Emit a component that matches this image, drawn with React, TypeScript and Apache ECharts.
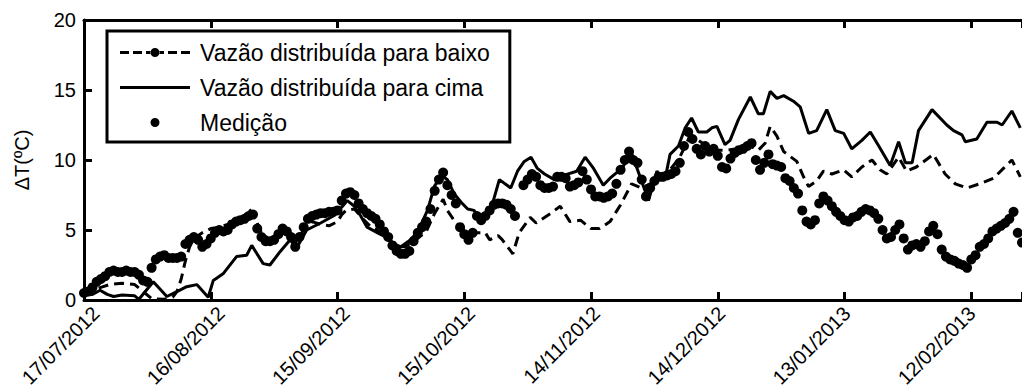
import React, { useEffect, useRef } from "react";
import * as echarts from "echarts";

// x axis: days since 17/07/2012, one tick label every 30 days
const tickLabels = [
  "17/07/2012", "16/08/2012", "15/09/2012", "15/10/2012",
  "14/11/2012", "14/12/2012", "13/01/2013", "12/02/2013",
];

const seriesNames = [
  "Vazão distribuída para baixo",
  "Vazão distribuída para cima",
  "Medição",
];

// Vazão distribuída para baixo: [day, ΔT]
const downFlow: [number, number][] = [
  [0, 0.4], [2, 0.7], [4, 0.9], [6, 1.1], [9, 1.2], [12, 1.1], [14, 0.6], [16, 0.1],
  [19, 0.05], [21, 0.2], [22, 0.6], [23, 1.5], [24, 2.8], [25, 3.8], [26, 4.4], [28, 4.8],
  [30, 5.1], [32, 5.2], [34, 5.4], [36, 5.6], [38, 6.0], [39, 6.5], [40, 6.2], [41, 5.5],
  [42, 4.8], [44, 4.3], [46, 4.6], [48, 4.9], [50, 4.1], [52, 5.0], [54, 5.6], [56, 5.4],
  [58, 5.3], [60, 5.6], [61, 6.1], [62, 6.4], [64, 6.5], [66, 5.8], [68, 5.2], [70, 4.9],
  [72, 4.4], [74, 3.8], [76, 3.8], [79, 4.4], [81, 4.9], [83, 6.2], [85, 7.2], [86, 6.4],
  [88, 5.5], [90, 5.0], [93, 4.8], [95, 4.8], [96, 4.3], [98, 4.6], [99, 4.3], [101.5, 3.3],
  [103, 4.8], [105.6, 5.9], [107, 5.5], [110.5, 6.2], [112.7, 6.7], [115, 5.6], [117.5, 5.7],
  [120, 5.1], [122, 5.1], [124.5, 5.6], [127, 6.8], [129.6, 8.3], [132, 8.0], [134, 8.3],
  [136.3, 8.6], [138.7, 9.3], [141, 10.2], [143.4, 11.7], [145.4, 11.4], [147.4, 11.0],
  [150, 10.7], [152, 10.7], [154.5, 10.8], [157.7, 11.0], [159.6, 10.7], [161.2, 11.2],
  [162.4, 12.4], [164, 11.7], [165.6, 10.6], [168.7, 9.9], [170.3, 8.8], [171.5, 8.1],
  [173.4, 8.5], [175, 9.2], [177, 9.0], [179.8, 9.3], [181.7, 8.8], [184.1, 9.5],
  [186.5, 10.0], [188.4, 9.3], [190, 9.0], [192.8, 10.2], [194.7, 9.2], [197, 9.5],
  [201, 10.4], [203.8, 9.0], [206.2, 8.3], [209, 8.0], [212, 8.3], [215.3, 8.7],
  [217.6, 9.4], [219.6, 10.0], [221.6, 8.8],
];

// Vazão distribuída para cima: [day, ΔT]
const upFlow: [number, number][] = [
  [0, 0.4], [2, 0.4], [3.8, 0.7], [5.5, 0.4], [7, 0.25], [9, 0.35], [12, 0.3], [13, 0.05],
  [16.4, 1.3], [19.6, 0.25], [22.7, 0.7], [24.3, 0.95], [26.7, 1.1], [29.4, 0.2], [30.6, 1.4],
  [33, 1.9], [36.1, 3.1], [38.5, 3.2], [39.7, 3.9], [42.4, 2.6], [44, 2.5], [46.4, 3.45],
  [48.8, 4.3], [50.3, 3.7], [52.7, 5.0], [56, 5.5], [59, 6.0], [61.2, 6.7], [62.3, 7.1],
  [64, 6.7], [65.5, 6.0], [67, 5.2], [69.5, 4.8], [71.4, 4.5], [73.4, 4.0], [75, 3.8],
  [77.3, 4.3], [79, 4.9], [81.3, 6.4], [82.9, 8.1], [84.5, 8.9], [86, 8.6], [87.6, 7.6],
  [89.2, 7.0], [90.8, 6.5], [92.3, 6.4], [93.9, 5.7], [95.5, 6.0], [96.7, 6.9], [98.3, 8.6],
  [101, 8.0], [102.6, 9.2], [104.2, 9.9], [105.8, 10.2], [107.3, 9.4], [109, 9.0],
  [111.3, 8.6], [113.5, 8.9], [116.6, 9.2], [118.6, 10.2], [120.6, 9.4], [122.9, 8.2],
  [124.5, 8.7], [127.3, 9.4], [129.6, 10.5], [131.6, 8.8], [133.6, 7.1], [135.6, 9.2],
  [137.5, 8.6], [138.7, 10.4], [140.7, 11.0], [142.3, 12.3], [143.8, 13.0], [145.4, 12.0],
  [147.4, 12.0], [148.6, 12.3], [149.8, 12.4], [151.7, 11.1], [152.9, 11.4], [154.9, 12.9],
  [157.7, 14.5], [159.6, 13.3], [160.8, 13.3], [162.4, 14.9], [164, 14.4], [165.6, 14.6],
  [167.9, 14.2], [169.5, 13.8], [171.5, 11.9], [173.4, 12.1], [175.8, 13.6], [177.8, 12.1],
  [179.8, 11.9], [181.7, 10.8], [184.1, 11.4], [186.1, 12.0], [188.1, 11.0], [190.8, 9.6],
  [192.8, 11.3], [194.4, 9.8], [196, 9.8], [197.5, 12.1], [200.7, 13.6], [204.2, 12.5],
  [205.8, 12.1], [207.8, 11.8], [208.6, 11.3], [211.3, 11.5], [213.7, 12.7], [216.1, 12.7],
  [217.3, 12.5], [219.6, 13.5], [221.6, 12.3],
];

// Medição: one value per day, starting 17/07/2012 (null = no measurement)
const measured: (number | null)[] = [
  0.5, 0.6, 0.9, 1.3, 1.5, 1.7, 2.0, 2.1, 2.0, 2.0, 2.1, 2.0, 2.0, 1.8, 1.4, 1.3, 2.3, 2.9, 3.1, 3.2,
  3.0, 3.0, 3.0, 3.1, 4.0, 4.3, 4.5, 4.3, 3.8, 4.0, 4.4, 4.8, 5.0, 4.9, 5.0, 5.4, 5.6, 5.7, 5.8, 6.0,
  6.1, 5.1, 4.5, 4.2, 4.2, 4.3, 4.7, 5.1, 4.9, 4.5, 3.8, 4.5, 5.2, 5.8, 6.0, 6.1, 6.2, 6.2, 6.3, 6.3,
  6.4, 7.1, 7.6, 7.7, 7.5, 6.9, 6.5, 6.2, 6.0, 5.8, 5.4, 4.9, 4.5, 3.9, 3.5, 3.3, 3.3, 3.5, 4.2, 4.8,
  5.2, 5.6, 6.5, 7.8, 8.6, 9.1, 8.2, 7.5, 6.9, 5.2, 4.7, 4.3, 4.8, 6.0, 5.7, 6.0, 6.4, 6.8, 6.9, 6.9,
  6.8, 6.5, 6.0, null, 8.2, 8.6, 9.0, 8.8, 8.2, 8.0, 8.0, 8.1, 8.8, 8.8, 8.7, 8.1, 8.2, 8.4, 9.2, 8.6,
  7.9, 7.4, 7.4, 7.3, 7.4, 7.6, 8.3, 9.3, 10.0, 10.6, 10.0, 9.8, 8.6, 7.4, 8.0, 8.5, 8.8, 8.8, 8.9, 9.0,
  9.2, 9.8, 11.0, 12.0, 11.5, 10.8, 10.4, 11.0, 10.6, 10.8, 10.3, 9.5, 9.4, 10.1, 10.5, 10.7, 10.8, 11.0, 11.2, 10.0,
  9.3, 9.8, 10.4, 9.7, 9.6, 9.5, 8.7, 8.5, 8.0, 7.6, 6.4, 5.6, 5.4, 5.7, 6.9, 7.4, 7.1, 6.7, 6.3, 6.0,
  5.7, 5.6, 5.9, 6.0, 6.3, 6.5, 6.4, 6.2, 5.8, 5.0, 4.4, 4.5, 5.0, 5.4, 4.4, 3.6, 3.9, 4.0, 3.8, 4.2,
  4.9, 5.3, 4.7, 3.6, 3.1, 2.9, 2.8, 2.6, 2.5, 2.3, 2.9, 3.2, 3.8, 4.0, 4.4, 4.9, 5.1, 5.3, 5.5, 5.8,
  6.3, 4.8, 4.1,
];

const yTicks = [0, 5, 10, 15, 20];
const X_MAX_DAY = 222;
const TICK_STEP_DAYS = 30;

const FONT = "'Liberation Sans', Arial, sans-serif";

const dashedIcon =
  "path://M0 3h9v3h-9z M13 3h9v3h-9z M26 3h5v3h-5z M39 3h5v3h-5z M48 3h9v3h-9z M61 3h9v3h-9z " +
  "M30.5 4.5a4.5 4.5 0 1 0 9 0a4.5 4.5 0 1 0 -9 0z M0 0h0.01v0.01h-0.01z M0 9h0.01v-0.01h-0.01z";
const solidIcon = "path://M0 3h70v3h-70z M0 0h0.01v0.01h-0.01z M0 9h0.01v-0.01h-0.01z";
const dotIcon = "path://M30.5 4.5a4.5 4.5 0 1 0 9 0a4.5 4.5 0 1 0 -9 0z M0 0h0.01v0.01h-0.01z M70 9h-0.01v-0.01h0.01z";

export default function App() {
  const ref = useRef<HTMLDivElement>(null);

  useEffect(() => {
    document.body.style.margin = "0";
    if (!ref.current) return;
    const chart = echarts.init(ref.current, undefined, { renderer: "svg" });

    const axisLineStyle = { color: "#000", width: 3 };
    const labelFmt = (v: number) =>
      v % TICK_STEP_DAYS === 0 && tickLabels[v / TICK_STEP_DAYS] ? tickLabels[v / TICK_STEP_DAYS] : "";

    chart.setOption({
      animation: false,
      backgroundColor: "#fff",
      textStyle: { fontFamily: FONT },
      grid: [
        { left: 84, top: 20, right: 0, bottom: 92, containLabel: false },
        // same scale, shifted right: carries only the rotated date labels
        { left: 96, top: 21, width: 938, bottom: 92, containLabel: false },
      ],
      legend: {
        left: 107,
        top: 31,
        orient: "vertical",
        backgroundColor: "#fff",
        borderColor: "#000",
        borderWidth: 3,
        borderRadius: 0,
        padding: [10, 20, 8, 13],
        itemWidth: 70,
        itemHeight: 9,
        itemGap: 12,
        symbolKeepAspect: true,
        textStyle: { fontFamily: FONT, fontSize: 23, lineHeight: 23, color: "#000", padding: [0, 0, 0, 5] },
        data: [
          { name: seriesNames[0], icon: dashedIcon },
          { name: seriesNames[1], icon: solidIcon },
          { name: seriesNames[2], icon: dotIcon },
        ],
      },
      xAxis: [
        {
          type: "value",
          gridIndex: 0,
          min: 0,
          max: X_MAX_DAY,
          interval: TICK_STEP_DAYS,
          axisLine: { onZero: false, lineStyle: axisLineStyle },
          axisTick: { inside: true, length: 8, lineStyle: axisLineStyle },
          splitLine: { show: false },
          axisLabel: { show: false },
        },
        {
          type: "value",
          gridIndex: 0,
          position: "top",
          min: 0,
          max: X_MAX_DAY,
          interval: TICK_STEP_DAYS,
          axisLine: { onZero: false, lineStyle: axisLineStyle },
          axisTick: { inside: true, length: 8, lineStyle: axisLineStyle },
          splitLine: { show: false },
          axisLabel: { show: false },
        },
        {
          type: "value",
          gridIndex: 1,
          min: 0,
          max: X_MAX_DAY,
          interval: TICK_STEP_DAYS,
          axisLine: { show: false, onZero: false },
          axisTick: { show: false },
          splitLine: { show: false },
          axisLabel: {
            rotate: 45,
            margin: 10,
            color: "#000",
            fontSize: 20,
            fontFamily: FONT,
            showMaxLabel: false,
            formatter: labelFmt,
          },
        },
      ],
      yAxis: [
        {
          type: "value",
          gridIndex: 0,
          min: yTicks[0],
          max: yTicks[yTicks.length - 1],
          interval: yTicks[1] - yTicks[0],
          name: "ΔT(ºC)",
          nameLocation: "middle",
          nameRotate: 90,
          nameGap: 52,
          nameTextStyle: { color: "#000", fontSize: 20, fontFamily: FONT },
          axisLine: { show: true, onZero: false, lineStyle: axisLineStyle },
          axisTick: { show: true, inside: true, length: 8, lineStyle: axisLineStyle },
          splitLine: { show: false },
          axisLabel: { color: "#000", fontSize: 20, fontFamily: FONT, margin: 8 },
        },
        {
          type: "value",
          gridIndex: 1,
          show: false,
          min: yTicks[0],
          max: yTicks[yTicks.length - 1],
        },
      ],
      series: [
        {
          name: seriesNames[0],
          type: "line",
          xAxisIndex: 0,
          yAxisIndex: 0,
          data: downFlow,
          showSymbol: false,
          symbol: "none",
          color: "#000",
          lineStyle: { color: "#000", width: 3, type: [10, 6] },
          z: 2,
        },
        {
          name: seriesNames[1],
          type: "line",
          xAxisIndex: 0,
          yAxisIndex: 0,
          data: upFlow,
          showSymbol: false,
          symbol: "none",
          color: "#000",
          lineStyle: { color: "#000", width: 3 },
          z: 2,
        },
        {
          name: seriesNames[2],
          type: "scatter",
          xAxisIndex: 0,
          yAxisIndex: 0,
          data: measured.map((v, i) => [i, v]),
          symbol: "circle",
          symbolSize: 10,
          color: "#000",
          itemStyle: { color: "#000", opacity: 1 },
          z: 3,
        },
      ],
    });

    return () => chart.dispose();
  }, []);

  return <div ref={ref} style={{ width: 1022, height: 392 }} />;
}
